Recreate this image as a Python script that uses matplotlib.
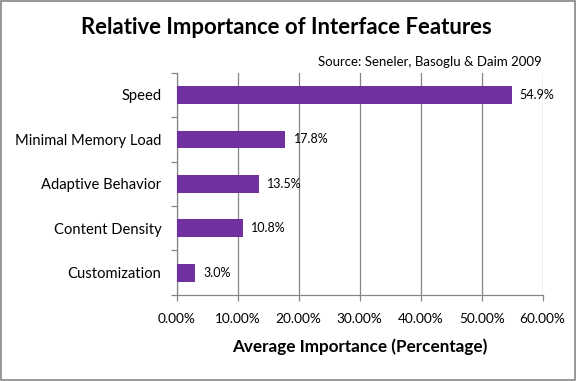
import matplotlib
matplotlib.use("Agg")
import matplotlib.pyplot as plt
from matplotlib.patches import Rectangle
from matplotlib.ticker import FixedLocator, NullFormatter

categories = ["Speed", "Minimal Memory Load", "Adaptive Behavior", "Content Density", "Customization"]
values = [54.9, 17.8, 13.5, 10.8, 3.0]
xticks = [0, 10, 20, 30, 40, 50, 60]
xtick_labels = ["0.00%", "10.00%", "20.00%", "30.00%", "40.00%", "50.00%", "60.00%"]
title = "Relative Importance of Interface Features"
source = "Source: Seneler, Basoglu & Daim 2009"
xlabel = "Average Importance (Percentage)"

plt.rcParams['font.family'] = ['Lato', 'DejaVu Sans']

fig = plt.figure(figsize=(5.76, 3.81), dpi=100)
ax = fig.add_axes([0.307, 0.226, 0.635, 0.583])

n = len(categories)
ypos = list(range(n))[::-1]
bar_color = "#7030A0"
ax.barh(ypos, values, height=0.4, color=bar_color, zorder=3)
for y, v in zip(ypos, values):
    ax.annotate(f"{v:.1f}%", (v, y), xytext=(6, 0), textcoords="offset points",
                va="center", ha="left", fontsize=9, color="black")

ax.set_xlim(0, 60)
ax.set_ylim(-0.5, n - 0.5)
ax.set_xticks(xticks)
ax.set_xticklabels(xtick_labels, fontsize=9.8)
ax.set_yticks(ypos)
ax.set_yticklabels(categories, fontsize=10.6)
ax.tick_params(axis='y', length=0, pad=11)
ax.yaxis.set_minor_locator(FixedLocator([i - 0.5 for i in range(n + 1)]))
ax.yaxis.set_minor_formatter(NullFormatter())
ax.tick_params(axis='y', which='minor', length=4, color="#868686", width=0.9)
ax.tick_params(axis='x', length=4, color="#868686", width=0.9, pad=9)
ax.grid(axis='x', color="#868686", linewidth=0.9, zorder=0)
for s in ["top", "right"]:
    ax.spines[s].set_visible(False)
for s in ["left", "bottom"]:
    ax.spines[s].set_color("#868686")
    ax.spines[s].set_linewidth(0.9)

ax.set_xlabel(xlabel, fontsize=12.3, fontweight="bold", labelpad=10)

fig.text(0.497, 0.928, title, ha="center", va="center", fontsize=15.9, fontweight="bold")
fig.text(0.940, 0.837, source, ha="right", va="center", fontsize=9.5)

fig.patches.append(Rectangle((0.001, 0.002), 0.997, 0.995, transform=fig.transFigure,
                             fill=False, edgecolor="#868686", linewidth=1.2))

fig.savefig("out.png", dpi=100)
